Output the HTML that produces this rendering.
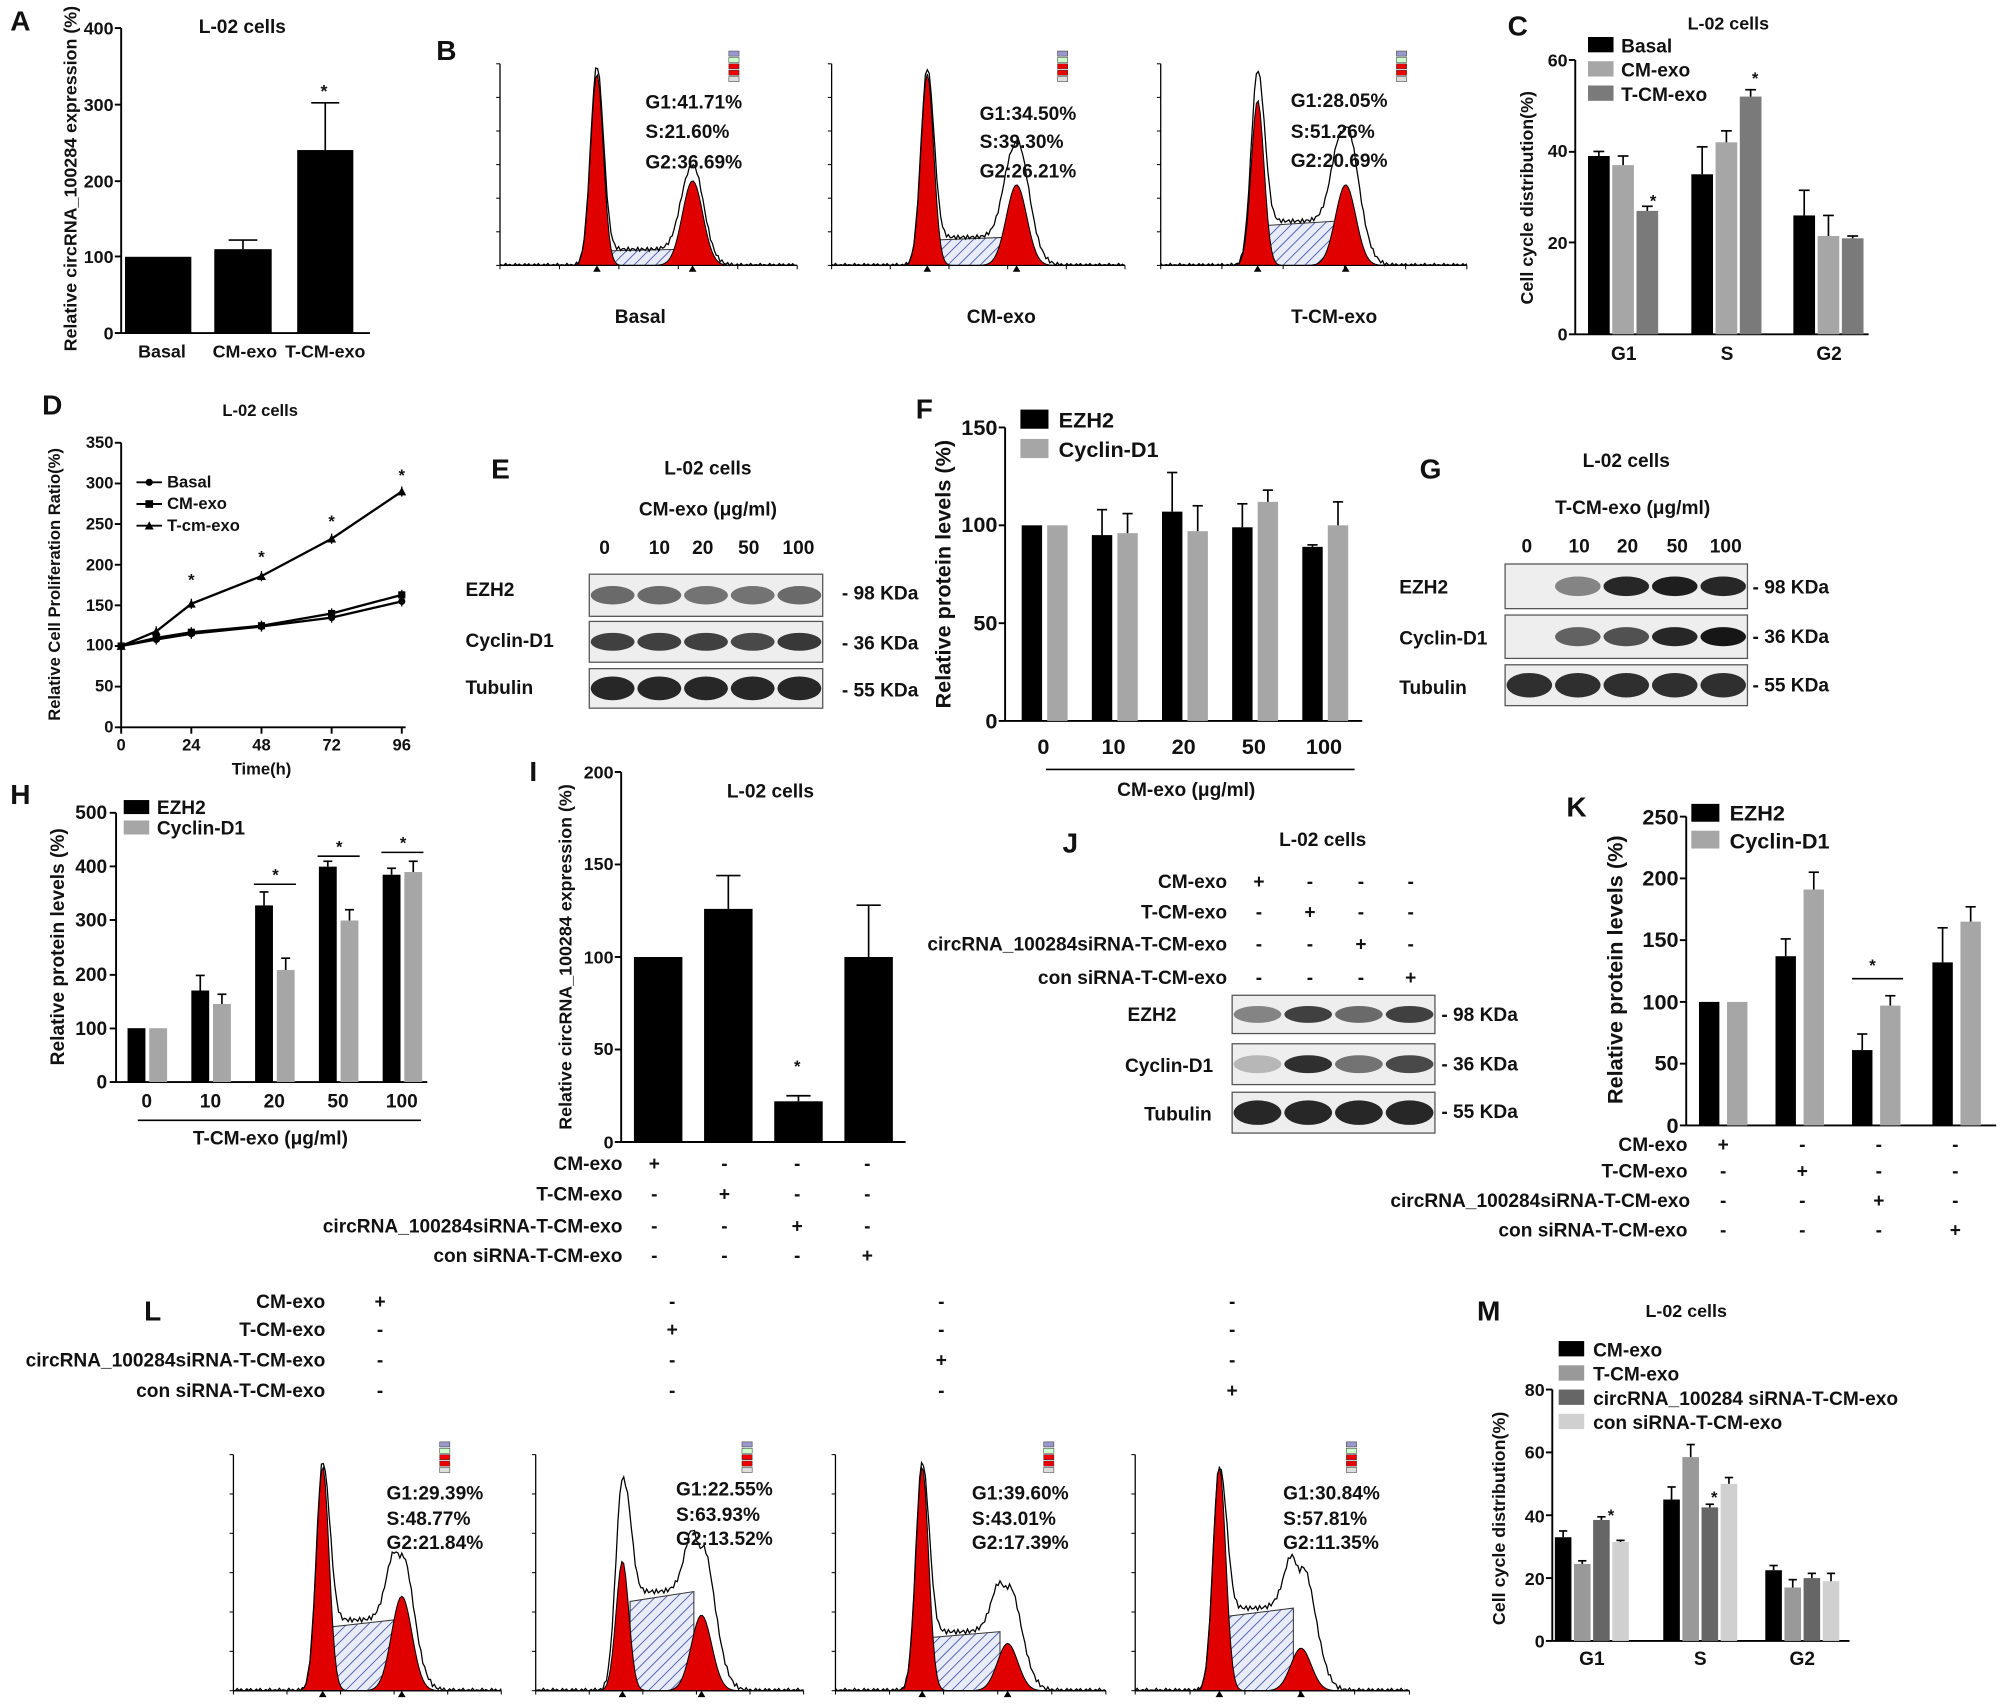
<!DOCTYPE html>
<html><head><meta charset="utf-8"><style>
html,body{margin:0;padding:0;background:#fff}
svg{display:block}
text{font-family:"Liberation Sans",sans-serif;font-weight:bold;fill:#111}
</style></head><body>
<svg id="s" width="2000" height="1706" viewBox="0 0 1568 1337" preserveAspectRatio="none" xmlns="http://www.w3.org/2000/svg">
<defs>
<pattern id="hatch" width="6" height="6" patternUnits="userSpaceOnUse" patternTransform="rotate(45)">
<rect width="6" height="6" fill="#e8ecf8"/><line x1="0" y1="0" x2="0" y2="6" stroke="#3040a0" stroke-width="1.2"/></pattern>
</defs>
<g id="g"></g>
<g font-size="22">
<text x="8" y="24">A</text><text x="342" y="47">B</text><text x="1182" y="28">C</text>
<text x="33" y="325">D</text><text x="385" y="375">E</text><text x="718" y="328">F</text>
<text x="1113" y="375">G</text><text x="8" y="630">H</text><text x="415" y="612">I</text>
<text x="833" y="668">J</text><text x="1228" y="640">K</text><text x="113" y="1035">L</text>
<text x="1158" y="1035">M</text></g>
<!-- A -->
<text x="190" y="26" font-size="15" text-anchor="middle">L-02 cells</text>
<g font-size="14" text-anchor="end"><text x="89" y="266">0</text><text x="89" y="206">100</text><text x="89" y="147">200</text><text x="89" y="87">300</text><text x="89" y="27">400</text></g>
<text transform="translate(60,140) rotate(-90)" font-size="14" text-anchor="middle">Relative circRNA_100284 expression (%)</text>
<g font-size="14" text-anchor="middle"><text x="127" y="280">Basal</text><text x="192" y="280">CM-exo</text><text x="255" y="280">T-CM-exo</text><text x="254" y="76">*</text></g>
<!-- B -->
<g font-size="15"><text x="506" y="85">G1:41.71%</text><text x="506" y="108">S:21.60%</text><text x="506" y="132">G2:36.69%</text>
<text x="768" y="94">G1:34.50%</text><text x="768" y="116">S:39.30%</text><text x="768" y="139">G2:26.21%</text>
<text x="1012" y="84">G1:28.05%</text><text x="1012" y="108">S:51.26%</text><text x="1012" y="131">G2:20.69%</text>
<text x="502" y="253" text-anchor="middle">Basal</text><text x="785" y="253" text-anchor="middle">CM-exo</text><text x="1046" y="253" text-anchor="middle">T-CM-exo</text></g>
<!-- C -->
<text x="1355" y="23" font-size="14" text-anchor="middle">L-02 cells</text>
<g font-size="14" text-anchor="end"><text x="1229" y="267">0</text><text x="1229" y="195">20</text><text x="1229" y="123">40</text><text x="1229" y="52">60</text></g>
<text transform="translate(1202,155) rotate(-90)" font-size="14" text-anchor="middle">Cell cycle distribution(%)</text>
<g font-size="15"><rect x="1245" y="29" width="20" height="12" fill="#000"/><text x="1271" y="41">Basal</text>
<rect x="1245" y="48" width="20" height="12" fill="#a6a6a6"/><text x="1271" y="60">CM-exo</text>
<rect x="1245" y="67" width="20" height="12" fill="#7a7a7a"/><text x="1271" y="79">T-CM-exo</text></g>
<g font-size="15" text-anchor="middle"><text x="1273" y="282">G1</text><text x="1354" y="282">S</text><text x="1434" y="282">G2</text>
<text x="1296" y="162" font-size="13">*</text><text x="1376" y="66" font-size="13">*</text></g>
<!-- D -->
<text x="204" y="326" font-size="13" text-anchor="middle">L-02 cells</text>
<g font-size="13" text-anchor="end"><text x="89" y="574">0</text><text x="89" y="542">50</text><text x="89" y="510">100</text><text x="89" y="479">150</text><text x="89" y="447">200</text><text x="89" y="415">250</text><text x="89" y="383">300</text><text x="89" y="351">350</text></g>
<g font-size="13" text-anchor="middle"><text x="95" y="588">0</text><text x="150" y="588">24</text><text x="205" y="588">48</text><text x="260" y="588">72</text><text x="315" y="588">96</text><text x="205" y="607">Time(h)</text>
<text x="150" y="459">*</text><text x="205" y="441">*</text><text x="260" y="413">*</text><text x="315" y="377">*</text></g>
<text transform="translate(47,458) rotate(-90)" font-size="13" text-anchor="middle">Relative Cell Proliferation Ratio(%)</text>
<g font-size="13"><text x="131" y="382">Basal</text><text x="131" y="399">CM-exo</text><text x="131" y="416">T-cm-exo</text></g>
<!-- E -->
<g font-size="15"><text x="555" y="372" text-anchor="middle">L-02 cells</text><text x="555" y="404" text-anchor="middle">CM-exo (μg/ml)</text>
<text x="474" y="434" text-anchor="middle">0</text><text x="517" y="434" text-anchor="middle">10</text><text x="551" y="434" text-anchor="middle">20</text><text x="587" y="434" text-anchor="middle">50</text><text x="626" y="434" text-anchor="middle">100</text>
<text x="365" y="467">EZH2</text><text x="365" y="507">Cyclin-D1</text><text x="365" y="544">Tubulin</text>
<text x="660" y="470">- 98 KDa</text><text x="660" y="509">- 36 KDa</text><text x="660" y="546">- 55 KDa</text></g>
<!-- F -->
<g font-size="17" text-anchor="end"><text x="782" y="571">0</text><text x="782" y="494">50</text><text x="782" y="417">100</text><text x="782" y="341">150</text></g>
<text transform="translate(745,450) rotate(-90)" font-size="17" text-anchor="middle">Relative protein levels (%)</text>
<g font-size="17" text-anchor="middle"><text x="818" y="591">0</text><text x="873" y="591">10</text><text x="928" y="591">20</text><text x="983" y="591">50</text><text x="1038" y="591">100</text><text x="930" y="624" font-size="15">CM-exo (μg/ml)</text></g>
<g font-size="17"><rect x="800" y="321" width="22" height="15" fill="#000"/><text x="830" y="335">EZH2</text>
<rect x="800" y="344" width="22" height="15" fill="#a6a6a6"/><text x="830" y="358">Cyclin-D1</text></g>
<!-- G -->
<g font-size="15"><text x="1275" y="366" text-anchor="middle">L-02 cells</text><text x="1280" y="403" text-anchor="middle">T-CM-exo (μg/ml)</text>
<text x="1197" y="433" text-anchor="middle">0</text><text x="1238" y="433" text-anchor="middle">10</text><text x="1276" y="433" text-anchor="middle">20</text><text x="1315" y="433" text-anchor="middle">50</text><text x="1353" y="433" text-anchor="middle">100</text>
<text x="1097" y="465">EZH2</text><text x="1097" y="505">Cyclin-D1</text><text x="1097" y="544">Tubulin</text>
<text x="1374" y="465">- 98 KDa</text><text x="1374" y="504">- 36 KDa</text><text x="1374" y="542">- 55 KDa</text></g>
<!-- H -->
<g font-size="15" text-anchor="end"><text x="84" y="853">0</text><text x="84" y="811">100</text><text x="84" y="769">200</text><text x="84" y="726">300</text><text x="84" y="684">400</text><text x="84" y="642">500</text></g>
<text transform="translate(50,742) rotate(-90)" font-size="15" text-anchor="middle">Relative protein levels (%)</text>
<g font-size="15" text-anchor="middle"><text x="115" y="868">0</text><text x="165" y="868">10</text><text x="215" y="868">20</text><text x="265" y="868">50</text><text x="315" y="868">100</text><text x="212" y="897">T-CM-exo (μg/ml)</text>
<text x="216" y="690" font-size="13">*</text><text x="266" y="668" font-size="13">*</text><text x="316" y="665" font-size="13">*</text></g>
<g font-size="15"><rect x="97" y="627" width="20" height="11" fill="#000"/><text x="123" y="638">EZH2</text>
<rect x="97" y="643" width="20" height="11" fill="#a6a6a6"/><text x="123" y="654">Cyclin-D1</text></g>
<!-- I -->
<text x="604" y="625" font-size="15" text-anchor="middle">L-02 cells</text>
<g font-size="14" text-anchor="end"><text x="481" y="900">0</text><text x="481" y="827">50</text><text x="481" y="755">100</text><text x="481" y="682">150</text><text x="481" y="610">200</text></g>
<text transform="translate(448,750) rotate(-90)" font-size="14" text-anchor="middle">Relative circRNA_100284 expression (%)</text>
<text x="625" y="840" font-size="13" text-anchor="middle">*</text>
<g font-size="15"><text x="488" y="917" text-anchor="end">CM-exo</text><text x="488" y="941" text-anchor="end">T-CM-exo</text><text x="488" y="966" text-anchor="end">circRNA_100284siRNA-T-CM-exo</text><text x="488" y="989" text-anchor="end">con siRNA-T-CM-exo</text></g>
<g font-size="15" text-anchor="middle">
<text x="513" y="917">+</text><text x="568" y="917">-</text><text x="625" y="917">-</text><text x="680" y="917">-</text>
<text x="513" y="941">-</text><text x="568" y="941">+</text><text x="625" y="941">-</text><text x="680" y="941">-</text>
<text x="513" y="966">-</text><text x="568" y="966">-</text><text x="625" y="966">+</text><text x="680" y="966">-</text>
<text x="513" y="989">-</text><text x="568" y="989">-</text><text x="625" y="989">-</text><text x="680" y="989">+</text></g>
<!-- J -->
<g font-size="15"><text x="1037" y="663" text-anchor="middle">L-02 cells</text>
<text x="962" y="696" text-anchor="end">CM-exo</text><text x="962" y="720" text-anchor="end">T-CM-exo</text><text x="962" y="745" text-anchor="end">circRNA_100284siRNA-T-CM-exo</text><text x="962" y="771" text-anchor="end">con siRNA-T-CM-exo</text>
<text x="987" y="696" text-anchor="middle">+</text><text x="1027" y="696" text-anchor="middle">-</text><text x="1067" y="696" text-anchor="middle">-</text><text x="1106" y="696" text-anchor="middle">-</text>
<text x="987" y="720" text-anchor="middle">-</text><text x="1027" y="720" text-anchor="middle">+</text><text x="1067" y="720" text-anchor="middle">-</text><text x="1106" y="720" text-anchor="middle">-</text>
<text x="987" y="745" text-anchor="middle">-</text><text x="1027" y="745" text-anchor="middle">-</text><text x="1067" y="745" text-anchor="middle">+</text><text x="1106" y="745" text-anchor="middle">-</text>
<text x="987" y="771" text-anchor="middle">-</text><text x="1027" y="771" text-anchor="middle">-</text><text x="1067" y="771" text-anchor="middle">-</text><text x="1106" y="771" text-anchor="middle">+</text>
<text x="884" y="800">EZH2</text><text x="882" y="840">Cyclin-D1</text><text x="897" y="878">Tubulin</text>
<text x="1130" y="800">- 98 KDa</text><text x="1130" y="839">- 36 KDa</text><text x="1130" y="876">- 55 KDa</text></g>
<!-- K -->
<g font-size="17" text-anchor="end"><text x="1316" y="888">0</text><text x="1316" y="839">50</text><text x="1316" y="791">100</text><text x="1316" y="742">150</text><text x="1316" y="694">200</text><text x="1316" y="646">250</text></g>
<text transform="translate(1272,760) rotate(-90)" font-size="17" text-anchor="middle">Relative protein levels (%)</text>
<g font-size="17"><rect x="1326" y="630" width="22" height="14" fill="#000"/><text x="1356" y="643">EZH2</text>
<rect x="1326" y="651" width="22" height="14" fill="#a6a6a6"/><text x="1356" y="665">Cyclin-D1</text></g>
<text x="1468" y="761" font-size="13" text-anchor="middle">*</text>
<g font-size="15"><text x="1323" y="902" text-anchor="end">CM-exo</text><text x="1323" y="923" text-anchor="end">T-CM-exo</text><text x="1325" y="946" text-anchor="end">circRNA_100284siRNA-T-CM-exo</text><text x="1323" y="969" text-anchor="end">con siRNA-T-CM-exo</text>
<g text-anchor="middle"><text x="1351" y="902">+</text><text x="1413" y="902">-</text><text x="1473" y="902">-</text><text x="1533" y="902">-</text>
<text x="1351" y="923">-</text><text x="1413" y="923">+</text><text x="1473" y="923">-</text><text x="1533" y="923">-</text>
<text x="1351" y="946">-</text><text x="1413" y="946">-</text><text x="1473" y="946">+</text><text x="1533" y="946">-</text>
<text x="1351" y="969">-</text><text x="1413" y="969">-</text><text x="1473" y="969">-</text><text x="1533" y="969">+</text></g></g>
<!-- L -->
<g font-size="15"><text x="255" y="1025" text-anchor="end">CM-exo</text><text x="255" y="1047" text-anchor="end">T-CM-exo</text><text x="255" y="1071" text-anchor="end">circRNA_100284siRNA-T-CM-exo</text><text x="255" y="1095" text-anchor="end">con siRNA-T-CM-exo</text>
<g text-anchor="middle"><text x="298" y="1025">+</text><text x="527" y="1025">-</text><text x="738" y="1025">-</text><text x="966" y="1025">-</text>
<text x="298" y="1047">-</text><text x="527" y="1047">+</text><text x="738" y="1047">-</text><text x="966" y="1047">-</text>
<text x="298" y="1071">-</text><text x="527" y="1071">-</text><text x="738" y="1071">+</text><text x="966" y="1071">-</text>
<text x="298" y="1095">-</text><text x="527" y="1095">-</text><text x="738" y="1095">-</text><text x="966" y="1095">+</text></g>
<text x="303" y="1175">G1:29.39%</text><text x="303" y="1195">S:48.77%</text><text x="303" y="1214">G2:21.84%</text>
<text x="530" y="1172">G1:22.55%</text><text x="530" y="1192">S:63.93%</text><text x="530" y="1211">G2:13.52%</text>
<text x="762" y="1175">G1:39.60%</text><text x="762" y="1195">S:43.01%</text><text x="762" y="1214">G2:17.39%</text>
<text x="1006" y="1175">G1:30.84%</text><text x="1006" y="1195">S:57.81%</text><text x="1006" y="1214">G2:11.35%</text></g>
<!-- M -->
<text x="1322" y="1032" font-size="14" text-anchor="middle">L-02 cells</text>
<g font-size="15"><rect x="1222" y="1051" width="20" height="12" fill="#000"/><text x="1249" y="1063">CM-exo</text>
<rect x="1222" y="1070" width="20" height="12" fill="#999"/><text x="1249" y="1082">T-CM-exo</text>
<rect x="1222" y="1089" width="20" height="12" fill="#666"/><text x="1249" y="1101">circRNA_100284 siRNA-T-CM-exo</text>
<rect x="1222" y="1108" width="20" height="12" fill="#d0d0d0"/><text x="1249" y="1120">con siRNA-T-CM-exo</text></g>
<g font-size="14" text-anchor="end"><text x="1211" y="1291">0</text><text x="1211" y="1242">20</text><text x="1211" y="1193">40</text><text x="1211" y="1143">60</text><text x="1211" y="1094">80</text></g>
<text transform="translate(1180,1190) rotate(-90)" font-size="14" text-anchor="middle">Cell cycle distribution(%)</text>
<g font-size="15" text-anchor="middle"><text x="1248" y="1305">G1</text><text x="1333" y="1305">S</text><text x="1413" y="1305">G2</text>
<text x="1263" y="1192" font-size="13">*</text><text x="1344" y="1178" font-size="13">*</text></g>
</svg>
<script>
var G=document.getElementById('g'),NS='http://www.w3.org/2000/svg';
function el(t,a){var e=document.createElementNS(NS,t);for(var k in a)e.setAttribute(k,a[k]);G.appendChild(e);return e;}
function line(x1,y1,x2,y2,w){el('line',{x1:x1,y1:y1,x2:x2,y2:y2,stroke:'#000','stroke-width':w||1.5});}
function axis(x,yb,yt,xr,ticks){line(x,yb,x,yt);line(x,yb,xr,yb);ticks.forEach(function(t){line(x-5,t,x,t);});}
function bar(x,w,yb,sc,v,e,c){var top=yb-v*sc;el('rect',{x:x,y:top,width:w,height:v*sc,fill:c});
 if(e>0){var et=top-e*sc,cx=x+w/2;line(cx,top,cx,et,1.3);line(cx-w/4,et,cx+w/4,et,1.3);}}
axis(95,261,22,290,[261,201,142,82,22]);
bar(98,52,261,0.5975,100,0,'#000');bar(168,45,261,0.5975,110,12,'#000');bar(233,44,261,0.5975,240,62,'#000');
axis(1235,262,47,1465,[262,190,119,47]);
var C=[[39,37,27],[35,42,52],[26,21.5,21]],Ce=[[1,2,1],[6,2.5,1.5],[5.5,4.5,0.5]],Cc=['#000','#a6a6a6','#7a7a7a'],Cg=[1273,1354,1434];
Cg.forEach(function(c,i){[-28,-9,10].forEach(function(o,j){bar(c+o,17,262,3.583,C[i][j],Ce[i][j],Cc[j]);});});
axis(95,570,347,318,[570,538.1,506.3,474.4,442.6,410.7,378.9,347]);
[95,150,205,260,315].forEach(function(x){line(x,570,x,575);});
var X=[95,122.5,150,205,260,315];
function pl(Y,m){el('polyline',{points:X.map(function(x,i){return x+','+Y[i]}).join(' '),fill:'none',stroke:'#000','stroke-width':1.8});
 X.forEach(function(x,i){if(m=='c')el('circle',{cx:x,cy:Y[i],r:2.8,fill:'#000'});else if(m=='s')el('rect',{x:x-2.8,y:Y[i]-2.8,width:5.6,height:5.6,fill:'#000'});else el('path',{d:'M'+(x-3.5)+','+(Y[i]+3)+'h7l-3.5,-6.5z',fill:'#000'});line(x,Y[i]-4,x,Y[i]+4,1);});}
pl([506.3,501.2,496.7,491,484,471.3],'c');pl([506.3,499.9,495.5,490.4,480.8,466.2],'s');pl([506.3,494.8,473.2,451.5,422.2,385.2],'t');
line(107,378,127,378);el('circle',{cx:117,cy:378,r:2.8});line(107,395,127,395);el('rect',{x:114,y:392,width:6,height:6});line(107,412,127,412);el('path',{d:'M113.5,415h7l-3.5,-6.5z'});
axis(788,565,335,1068,[565,488.4,411.7,335]);
line(820,603,1062,603,1.3);
var Fe=[100,95,107,99,89],Fc=[100,96,97,112,100],Fee=[0,13,20,12,1],Fce=[0,10,13,6,12];
[818,873,928,983,1038].forEach(function(c,i){bar(c-17,16,565,1.533,Fe[i],Fee[i],'#000');bar(c+3,16,565,1.533,Fc[i],Fce[i],'#a6a6a6');});
axis(91,848,637,335,[848,806,764,721,679,637]);
line(108,878,330,878,1.3);
var He=[100,170,328,400,385],Hc=[100,145,208,300,390],Hee=[0,28,25,10,12],Hce=[0,18,22,20,20];
[115,165,215,265,315].forEach(function(c,i){bar(c-15,14,848,0.422,He[i],Hee[i],'#000');bar(c+2,14,848,0.422,Hc[i],Hce[i],'#a6a6a6');});
line(199,693,232,693,1.2);line(249,671,282,671,1.2);line(299,668,332,668,1.2);
axis(487,895,605,710,[895,822.5,750,677.5,605]);
[[497,100,0],[552,126,18],[607,22,3],[662,100,28]].forEach(function(b){bar(b[0],38,895,1.45,b[1],b[2],'#000');});
axis(1322,882,640,1565,[882,833.6,785.2,736.8,688.4,640]);
var Ke=[100,137,61,132],Kc=[100,191,97,165],Kee=[0,14,13,28],Kce=[0,14,8,12],Kx=[1332,1392,1452,1515];
Kx.forEach(function(x,i){bar(x,16,882,0.968,Ke[i],Kee[i],'#000');bar(x+22,16,882,0.968,Kc[i],Kce[i],'#a6a6a6');});
line(1452,767,1492,767,1.2);
axis(1217,1286,1089,1450,[1286,1236.75,1187.5,1138.25,1089]);
var M=[[33,24.5,38.5,31.5],[45,58.5,42.5,50],[22.5,17,20,19]],Me=[[2,1,1,0.5],[4,4,1,2],[1.5,2.5,1.5,2.5]],Mc=['#000','#999','#666','#d0d0d0'];
[1248,1333,1413].forEach(function(c,i){[-29,-14,1,16].forEach(function(o,j){bar(c+o,13,1286,2.4625,M[i][j],Me[i][j],Mc[j]);});});
function blot(x,y,w,h,ints,bw){el('rect',{x:x,y:y,width:w,height:h,fill:'#eee',stroke:'#555','stroke-width':1});
 var n=ints.length,sw=w/n;ints.forEach(function(v,i){if(v<=0)return;var g=Math.round(200-170*v);
 el('ellipse',{cx:x+sw*(i+0.5),cy:y+h/2,rx:sw*0.47,ry:h*(bw||0.22),fill:'rgb('+g+','+g+','+g+')'});});}
blot(462,450,183,33,[.55,.55,.5,.5,.55]);blot(462,487,183,32,[.8,.8,.8,.75,.85]);blot(462,524,183,31,[.95,.95,.95,.95,.95],0.3);
blot(1180,442,190,35,[0,.4,.95,1,.95]);blot(1180,482,190,34,[0,.6,.7,.95,1.05]);blot(1180,521,190,32,[.9,.9,.9,.9,.9],0.3);
blot(966,780,159,30,[.4,.8,.55,.8]);blot(966,818,159,32,[.1,.9,.5,.75]);blot(966,856,159,32,[.95,.95,.95,.95],0.3);
function gs(x,m,s){return Math.exp(-(x-m)*(x-m)/(2*s*s));}
function hist(x0,yb,w,yt,p1,h1,p2,h2,sh,o1,o2){
 line(x0,yb,x0,yt,1);line(x0,yb,x0+w,yb,1);
 for(var i=0;i<=5;i++){line(x0+w*i/5,yb,x0+w*i/5,yb+3,0.8);}
 for(var i=0;i<=6;i++){line(x0-3,yb-(yb-yt)*i/6,x0,yb-(yb-yt)*i/6,0.8);}
 var H=yb-yt,s1=5,s2=8,p='',q='',o='';
 for(var x=x0;x<=x0+w;x+=1.5){var a=h1*gs(x,p1,s1),b=h2*gs(x,p2,s2);
  var c=(x>p1&&x<p2)?sh:0; c*= (1-gs(x,p1,s1*0.8))*(1-gs(x,p2,s2*0.6));
  p+=(p?'L':'M')+x+','+(yb-a*H);q+=(q?'L':'M')+x+','+(yb-b*H);
  var tot=a+b+c+(o1||0)*gs(x,p1,s1*1.1)+(o2||0)*gs(x,p2+3,s2*1.3)+0.01*Math.sin(x*1.7);
  o+=(o?'L':'M')+x+','+(yb-Math.max(0,tot)*H);}
 el('path',{d:'M'+(p1+6)+','+yb+'L'+(p1+6)+','+(yb-sh*H*0.9)+'L'+(p2-6)+','+(yb-sh*H)+'L'+(p2-6)+','+yb+'Z',fill:'url(#hatch)',stroke:'#333','stroke-width':0.8});
 el('path',{d:p+'L'+(x0+w)+','+yb+'Z',fill:'#e00000',stroke:'#000','stroke-width':0.8});
 el('path',{d:q+'L'+(x0+w)+','+yb+'Z',fill:'#e00000',stroke:'#000','stroke-width':0.8});
 el('path',{d:o,fill:'none',stroke:'#000','stroke-width':1});
 el('path',{d:'M'+(p1-3)+','+(yb+5)+'l3,-5l3,5z',fill:'#000'});el('path',{d:'M'+(p2-3)+','+(yb+5)+'l3,-5l3,5z',fill:'#000'});
 var lx=x0+w*0.77,ly=yt-10;['#99c','#cfc','#e00','#e00','#ddd'].forEach(function(c,i){el('rect',{x:lx,y:ly+i*5,width:8,height:4,fill:c,stroke:'#333','stroke-width':0.4});});
}
hist(392,208,233,50,468,0.95,543,0.42,0.08,0.04,0.08);
hist(652,208,230,50,727,0.95,797,0.4,0.14,0.03,0.22);
hist(910,208,240,50,986,0.82,1055,0.4,0.22,0.15,0.3);
hist(183,1325,210,1140,253,0.95,315,0.4,0.3,0.02,0.18);
hist(420,1325,210,1140,488,0.55,550,0.32,0.42,0.35,0.3);
hist(655,1325,212,1140,723,0.95,790,0.2,0.25,0.02,0.25);
hist(890,1325,215,1140,956,0.95,1020,0.18,0.35,0,0.35);
</script>
</body></html>
